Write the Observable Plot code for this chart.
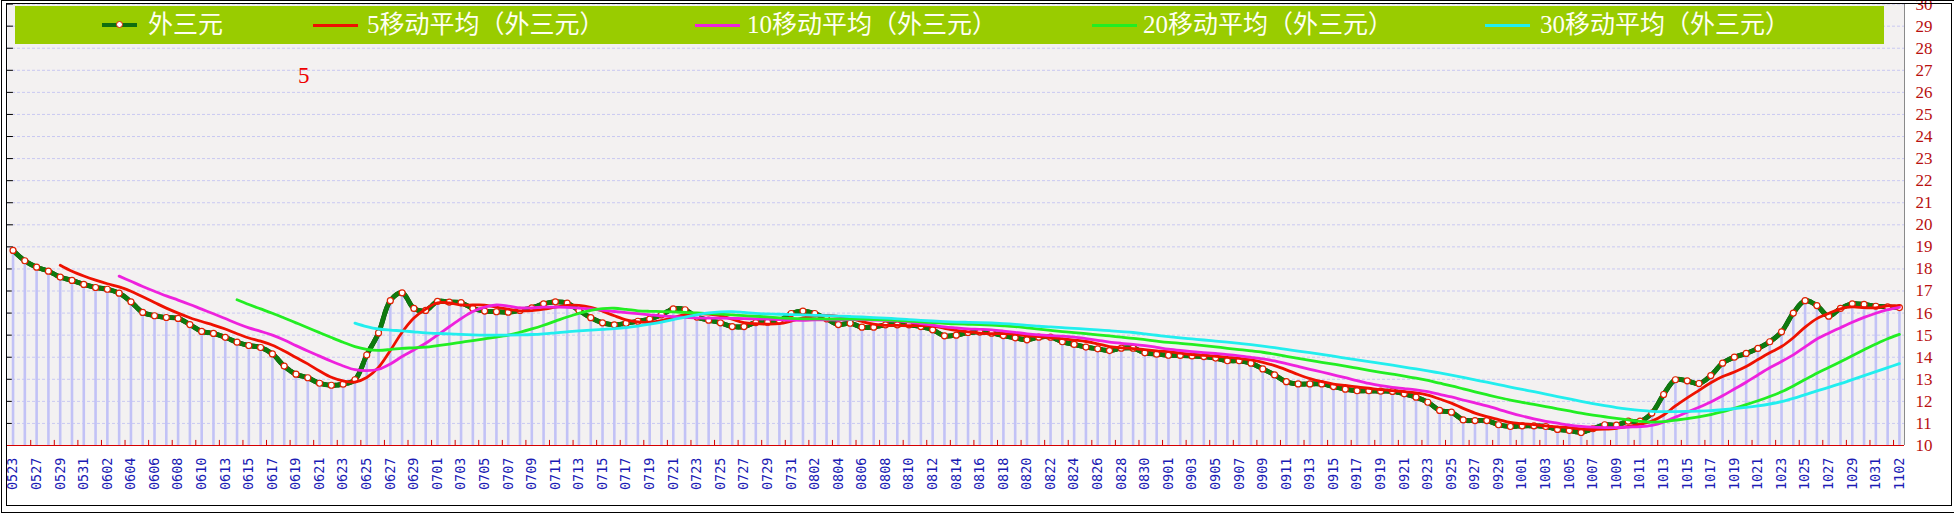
<!DOCTYPE html>
<html>
<head>
<meta charset="utf-8">
<script src="https://cdn.jsdelivr.net/npm/d3@7"></script>
<script src="https://cdn.jsdelivr.net/npm/@observablehq/plot@0.6"></script>
<style>
  html, body { margin: 0; padding: 0; background: #ffffff; }
  #wrap { position: relative; width: 1954px; height: 513px; overflow: hidden; }
  #wrap svg { position: absolute; left: 0; top: 0; }
  .frame { position: absolute; border: 1px solid #000; box-sizing: border-box; pointer-events: none; }
  #legend { position: absolute; left: 15px; top: 6px; width: 1869px; height: 38px; background: #99cc00; }
  .sw { position: absolute; top: 18px; height: 3px; width: 45px; }
  .lt { position: absolute; top: 0; line-height: 38px; white-space: nowrap; color: #fffff2;
        font-family: "Liberation Serif", "Noto Sans CJK SC", serif; font-size: 25px; }
  #note { position: absolute; left: 298px; top: 62px; color: #ee0000;
          font-family: "Liberation Serif", serif; font-size: 23px; line-height: 28px; }
</style>
</head>
<body>
<div id="wrap"></div>
<script>
// ---- data ----
const dates = [
  "0523","0524","0527","0528","0529","0530","0531",
  "0601","0602","0603","0604","0605","0606","0607","0608","0609","0610",
  "0612","0613","0614","0615","0616","0617","0618","0619","0620","0621","0622","0623","0624","0625","0626","0627","0628","0629","0630",
  "0701","0702","0703","0704","0705","0706","0707","0708","0709","0710","0711","0712","0713","0714","0715","0716","0717","0718","0719","0720","0721","0722","0723","0724","0725","0726","0727","0728","0729","0730","0731",
  "0801","0802","0803","0804","0805","0806","0807","0808","0809","0810","0811","0812","0813","0814","0815","0816","0817","0818","0819","0820","0821","0822","0823","0824","0825","0826","0827","0828","0829","0830","0831",
  "0901","0902","0903","0904","0905","0906","0907","0908","0909","0910","0911","0912","0913","0914","0915","0916","0917","0918","0919","0920","0921","0922","0923","0924","0925","0926","0927","0928","0929","0930",
  "1001","1002","1003","1004","1005","1006","1007","1008","1009","1010","1011","1012","1013","1014","1015","1016","1017","1018","1019","1020","1021","1022","1023","1024","1025","1026","1027","1028","1029","1030","1031",
  "1101","1102"
];
const values = [
  18.84, 18.37, 18.08, 17.90, 17.63, 17.48, 17.30, 17.16, 17.08, 16.90,
  16.51, 16.03, 15.88, 15.80, 15.76, 15.48, 15.17, 15.08, 14.90, 14.68,
  14.53, 14.44, 14.15, 13.60, 13.23, 13.07, 12.82, 12.73, 12.78, 12.98,
  14.10, 15.10, 16.56, 16.92, 16.21, 16.12, 16.53, 16.50, 16.47, 16.21,
  16.09, 16.06, 16.04, 16.12, 16.24, 16.42, 16.51, 16.45, 16.12, 15.79,
  15.56, 15.47, 15.54, 15.63, 15.73, 15.92, 16.19, 16.15, 15.82, 15.68,
  15.56, 15.39, 15.39, 15.57, 15.59, 15.66, 15.98, 16.09, 15.98, 15.74,
  15.48, 15.54, 15.36, 15.36, 15.47, 15.47, 15.47, 15.39, 15.24, 14.97,
  15.00, 15.12, 15.14, 15.09, 14.98, 14.88, 14.79, 14.91, 14.91, 14.70,
  14.58, 14.46, 14.38, 14.30, 14.41, 14.41, 14.20, 14.14, 14.09, 14.08,
  14.06, 14.03, 13.96, 13.84, 13.84, 13.73, 13.47, 13.20, 12.89, 12.79,
  12.79, 12.79, 12.67, 12.55, 12.48, 12.48, 12.46, 12.45, 12.34, 12.19,
  11.96, 11.59, 11.51, 11.16, 11.13, 11.13, 10.94, 10.86, 10.89, 10.89,
  10.86, 10.73, 10.68, 10.59, 10.76, 10.94, 10.92, 11.10, 11.10, 11.47,
  12.31, 12.98, 12.93, 12.81, 13.17, 13.73, 14.00, 14.17, 14.40, 14.70,
  15.15, 16.00, 16.56, 16.34, 15.86, 16.21, 16.42, 16.39, 16.31, 16.28, 16.25
];
const yTicks = [10,11,12,13,14,15,16,17,18,19,20,21,22,23,24,25,26,27,28,29,30];
const mainName = "外三元";
const maWindows = [5, 10, 20, 30];
const maNames = ["5移动平均（外三元）","10移动平均（外三元）","20移动平均（外三元）","30移动平均（外三元）"];
const noteText = "5";

// ---- styles ----
const maColors = ["#ee1100", "#ee22dd", "#22ee22", "#22eeee"];
const mainColor = "#0f6e0f";
const xDomain = [-0.47, 160.43];

const data = values.map((v, i) => ({i, v, d: dates[i]}));
const labelRows = data.filter(r => r.i % 2 === 0);
const boundaryTicks = data.filter(r => r.i % 2 === 1).map(r => r.i + 0.5);

const maMarks = maWindows.map((k, j) =>
  Plot.lineY(data, Plot.windowY({k, anchor: "end", reduce: "mean", strict: true},
    {x: "i", y: "v", stroke: maColors[j], strokeWidth: 2.8, curve: "catmull-rom"}))
);

const chart = Plot.plot({
  width: 1954, height: 513,
  marginLeft: 7, marginRight: 50, marginTop: 3.6, marginBottom: 68,
  x: {type: "linear", domain: xDomain, axis: null},
  y: {domain: [10, 30], axis: null},
  style: {background: "transparent", overflow: "visible"},
  marks: [
    Plot.frame({fill: "#f3f1f1", stroke: null}),
    Plot.ruleY(yTicks.slice(1), {stroke: "#c9c9f2", strokeDasharray: "3,2", strokeWidth: 1}),
    Plot.ruleY(yTicks, {x1: xDomain[0], x2: xDomain[0] + 0.5, stroke: "#000"}),
    Plot.ruleX([xDomain[1]], {stroke: "#8a8a8a"}),
    Plot.ruleX(data, {x: "i", y1: yTicks[0], y2: "v", stroke: "#c2c2f6", strokeWidth: 2.6}),
    Plot.ruleY([yTicks[0]], {stroke: "#d40000", strokeWidth: 1.2}),
    Plot.ruleX(boundaryTicks, {y1: yTicks[0], y2: yTicks[0] + 0.23, stroke: "#d40000"}),
    Plot.line(data, {x: "i", y: "v", stroke: "#073f07", strokeWidth: 4.8, curve: "catmull-rom"}),
    Plot.line(data, {x: "i", y: "v", stroke: "#0e7a0e", strokeWidth: 4.8, strokeDasharray: "7,3", curve: "catmull-rom"}),
    Plot.dot(data, {x: "i", y: "v", r: 3, fill: "#ffffff", stroke: "#e02000", strokeWidth: 1.2}),
    ...maMarks,
    Plot.axisY(yTicks, {anchor: "right", tickSize: 0, tickPadding: 11, label: null,
      fontSize: 17, fontFamily: "Liberation Serif", color: "#b81010"}),
    Plot.text(labelRows, {x: "i", text: "d", frameAnchor: "bottom", dy: 12, rotate: -90,
      textAnchor: "end", lineAnchor: "middle", fontSize: 13.5, fontFamily: "DejaVu Sans Mono",
      fill: "#1a1ab4"})
  ]
});

const wrap = document.getElementById("wrap");
wrap.appendChild(chart);

// frames
const outer = document.createElement("div");
outer.className = "frame";
Object.assign(outer.style, {left: "1px", top: "0px", width: "1960px", height: "513px"});
wrap.appendChild(outer);
const inner = document.createElement("div");
inner.className = "frame";
Object.assign(inner.style, {left: "6px", top: "3px", width: "1946px", height: "503px"});
wrap.appendChild(inner);

// legend
const legend = document.createElement("div");
legend.id = "legend";
const itemPos = [[87, 133], [298, 352], [680, 732], [1077, 1128], [1470, 1525]];
const itemColors = [mainColor, ...maColors];
const itemNames = [mainName, ...maNames];
itemNames.forEach((name, j) => {
  const sw = document.createElement("div");
  sw.className = "sw";
  sw.style.left = itemPos[j][0] + "px";
  sw.style.background = itemColors[j];
  if (j === 0) {
    sw.style.width = "35px"; sw.style.height = "4px"; sw.style.top = "17px";
    const m = document.createElement("div");
    Object.assign(m.style, {position: "absolute", left: "14px", top: "-2px", width: "5px", height: "5px",
      borderRadius: "50%", background: "#fff", border: "1px solid #e02000"});
    sw.appendChild(m);
  }
  legend.appendChild(sw);
  const t = document.createElement("div");
  t.className = "lt";
  t.style.left = itemPos[j][1] + "px";
  t.textContent = name;
  legend.appendChild(t);
});
wrap.appendChild(legend);

const note = document.createElement("div");
note.id = "note";
note.textContent = noteText;
wrap.appendChild(note);
</script>
</body>
</html>
